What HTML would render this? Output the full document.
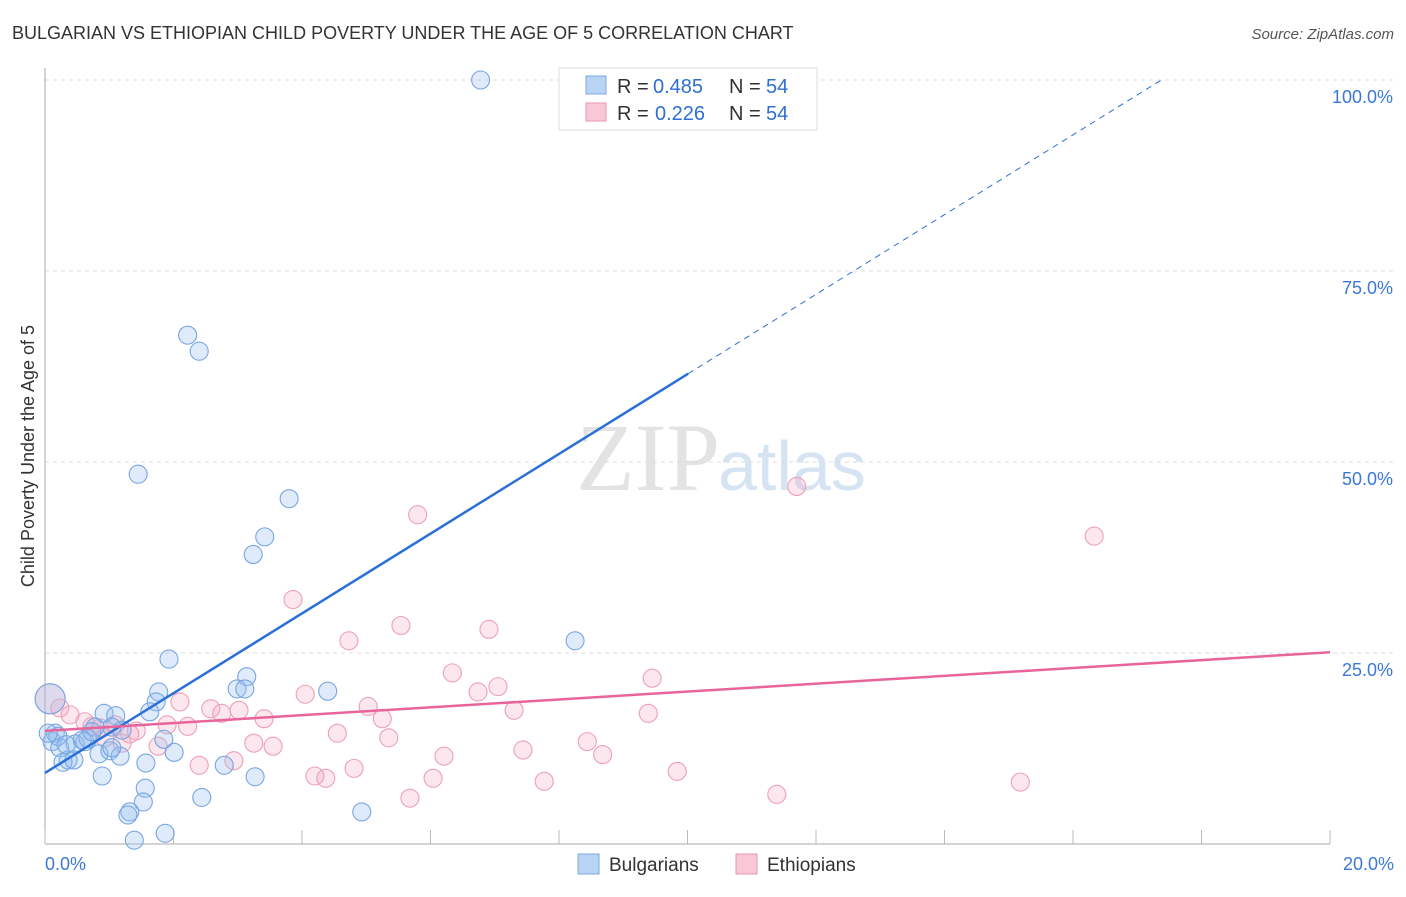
<!DOCTYPE html>
<html><head><meta charset="utf-8"><style>
body{margin:0;background:#fff;font-family:"Liberation Sans",sans-serif}
</style></head><body>
<svg id="c" width="1406" height="892" xmlns="http://www.w3.org/2000/svg">
<text x="12" y="39" font-size="18" fill="#333">BULGARIAN VS ETHIOPIAN CHILD POVERTY UNDER THE AGE OF 5 CORRELATION CHART</text>
<text x="1394" y="39" font-size="15" fill="#555" font-style="italic" text-anchor="end">Source: ZipAtlas.com</text>
<text x="720" y="490" font-size="96" fill="#e3e3e3" font-family="Liberation Serif,serif" text-anchor="end">ZIP</text>
<text x="718" y="490" font-size="70" fill="#d5e3f3">atlas</text>
<text transform="translate(34,456) rotate(-90)" font-size="18" fill="#333" text-anchor="middle">Child Poverty Under the Age of 5</text>
<g id="grid"></g><g id="pts"></g><g id="lines"></g>
<g>
<rect x="559" y="68" width="258" height="62" fill="#fff" stroke="#ddd"/>
<rect x="586" y="76" width="20" height="18" fill="#b8d3f3" stroke="#7aa8e0"/>
<rect x="586" y="103" width="20" height="18" fill="#f9c8d6" stroke="#eb96b0"/>
<text y="93" font-size="20" fill="#333"><tspan x="617">R =</tspan><tspan x="653" fill="#2e6fd0">0.485</tspan><tspan x="729">N =</tspan><tspan x="766" fill="#2e6fd0">54</tspan></text>
<text y="120" font-size="20" fill="#333"><tspan x="617">R =</tspan><tspan x="655" fill="#2e6fd0">0.226</tspan><tspan x="729">N =</tspan><tspan x="766" fill="#2e6fd0">54</tspan></text>
</g>
<g>
<rect x="578" y="854" width="21" height="20" fill="#b8d3f3" stroke="#7aa8e0"/>
<text x="609" y="871" font-size="19" fill="#333">Bulgarians</text>
<rect x="736" y="854" width="21" height="20" fill="#f9c8d6" stroke="#eb96b0"/>
<text x="767" y="871" font-size="19" fill="#333">Ethiopians</text>
</g>
</svg>
<script>
const yTicks=[100,75,50,25];
const yTickLabels=["100.0%","75.0%","50.0%","25.0%"];
const xTicks=[0,2,4,6,8,10,12,14,16,18,20];
const blueX=[6.78,2.22,2.40,1.45,3.80,3.42,3.24,8.25,1.93,3.14,2.99,3.11,1.77,4.40,1.73,1.63,0.92,1.10,0.08,1.20,1.04,0.78,0.16,0.11,0.23,0.47,0.62,0.36,0.28,0.45,0.67,0.84,1.01,1.17,1.85,2.01,1.57,2.79,0.89,3.27,1.56,1.53,1.32,1.29,2.44,4.93,1.87,1.39,0.20,0.58,0.05,1.04,0.33,0.73];
const blueY=[100,66.6,64.5,48.4,45.2,40.2,37.9,26.6,24.2,21.9,20.3,20.3,19.9,20.0,18.6,17.3,17.1,16.8,19.0,14.9,15.3,15.3,14.5,13.4,12.6,13.1,13.4,11.0,10.7,11.0,13.8,11.8,12.2,11.5,13.7,12.0,10.6,10.3,8.9,8.8,7.3,5.5,4.2,3.8,6.1,4.2,1.4,0.5,14.1,13.6,14.5,12.6,13.0,14.7];
const pinkX=[11.70,16.33,5.80,3.86,5.54,6.91,4.73,6.34,9.45,7.05,6.74,4.05,2.10,5.03,2.58,7.30,2.75,3.02,9.39,3.41,5.25,1.90,2.22,1.42,0.73,4.55,5.35,3.25,3.55,1.76,1.20,8.44,8.68,6.21,7.44,2.94,2.40,4.81,4.20,4.37,6.04,7.77,9.84,15.18,11.39,5.68,0.23,0.39,0.08,0.86,1.09,0.62,1.32,0.93];
const pinkY=[46.8,40.3,43.1,32.0,28.6,28.1,26.6,22.4,21.7,20.6,19.9,19.6,18.6,18.0,17.7,17.5,17.1,17.5,17.1,16.4,16.4,15.6,15.4,14.8,15.4,14.5,13.9,13.2,12.8,12.8,13.2,13.4,11.7,11.5,12.3,10.9,10.3,9.9,8.9,8.6,8.6,8.2,9.5,8.1,6.5,6.0,17.8,16.9,19.0,15.2,15.6,16.0,14.4,13.9];
const blueFit=[9.3,5.22];
const pinkFit=[14.8,0.515];
const X=v=>45+v/20*1285, Y=v=>844-v*7.64;
const NS="http://www.w3.org/2000/svg";
function mk(t,a,p){const e=document.createElementNS(NS,t);for(const k in a)e.setAttribute(k,a[k]);p.appendChild(e);return e;}
const g=document.getElementById('grid');
yTicks.forEach((v,i)=>{
 const l=mk('line',{x1:45,x2:1394,y1:Y(v),y2:Y(v),stroke:'#ddd','stroke-dasharray':'4,4'},g);
 
 
 const t=mk('text',{x:1393,y:Y(v)+23,'font-size':18,fill:'#3b78d8','text-anchor':'end'},g);
 t.textContent=yTickLabels[i];
 
 
});
mk('line',{x1:45,x2:45,y1:68,y2:844,stroke:'#aaa'},g);
mk('line',{x1:45,x2:1330,y1:844,y2:844,stroke:'#aaa'},g);
xTicks.forEach(v=>{
 const l=mk('line',{x1:X(v),x2:X(v),y1:830,y2:844,stroke:'#bbb'},g);
 
 
});
const tx0=mk('text',{x:45,y:870,'font-size':18,fill:'#3b78d8'},g);tx0.textContent='0.0%';


const tx1=mk('text',{x:1394,y:870,'font-size':18,fill:'#3b78d8','text-anchor':'end'},g);tx1.textContent='20.0%';


const p=document.getElementById('pts');
pinkX.forEach((x,i)=>{
 const c=mk('circle',{cx:X(x),cy:Y(pinkY[i]),r:i==48?15:9,fill:'rgba(245,170,195,0.28)',stroke:'#eda0b8','stroke-width':1.1},p);
 
 
});
blueX.forEach((x,i)=>{
 const c=mk('circle',{cx:X(x),cy:Y(blueY[i]),r:i==18?15:9,fill:'rgba(150,190,240,0.3)',stroke:'#78a6e2','stroke-width':1.1},p);
 
 
});
const L=document.getElementById('lines');
const bEnd=10.01, bMax=(100-blueFit[0])/blueFit[1];
const b1=mk('line',{x1:X(0),y1:Y(blueFit[0]),x2:X(bEnd),y2:Y(blueFit[0]+blueFit[1]*bEnd),stroke:'#2a70d8','stroke-width':2.5},L);


const b2=mk('line',{x1:X(bEnd),y1:Y(blueFit[0]+blueFit[1]*bEnd),x2:X(bMax),y2:Y(100),stroke:'#2a70d8','stroke-width':1,'stroke-dasharray':'6,5'},L);


const p1=mk('line',{x1:X(0),y1:Y(pinkFit[0]),x2:X(20),y2:Y(pinkFit[0]+pinkFit[1]*20),stroke:'#e8649a','stroke-width':2.5},L);


</script>
</body></html>
